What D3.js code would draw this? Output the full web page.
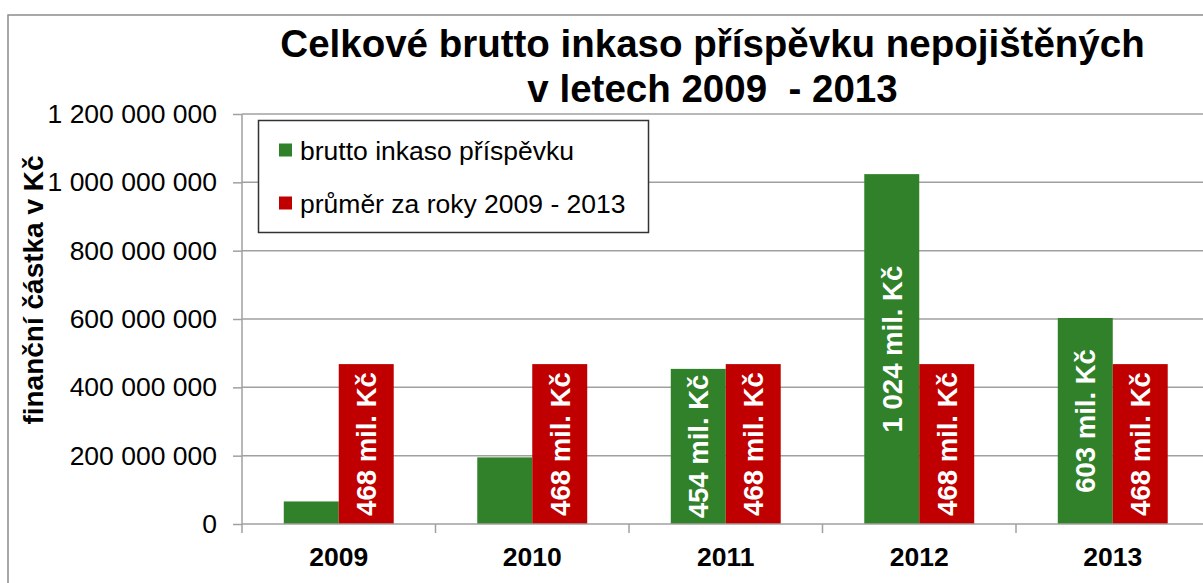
<!DOCTYPE html>
<html>
<head>
<meta charset="utf-8">
<script src="https://cdn.jsdelivr.net/npm/d3@7"></script>
<style>
  html, body { margin: 0; padding: 0; background: #fff; }
  svg { display: block; font-family: "Liberation Sans", Arial, sans-serif; }
  .title { white-space: pre; }
</style>
</head>
<body>
<svg id="chart" width="1203" height="583"></svg>
<script>
// ── Data ───────────────────────────────────────────────────────────────
const years        = ['2009', '2010', '2011', '2012', '2013'];
const bruttoInkaso = [66e6, 195e6, 454e6, 1024e6, 603e6];   // Kč
const prumer       = [468e6, 468e6, 468e6, 468e6, 468e6];   // Kč
const seriesNames  = ['brutto inkaso příspěvku', 'průměr za roky 2009 - 2013'];
const yTicks       = [0, 200e6, 400e6, 600e6, 800e6, 1000e6, 1200e6];
const titleLines   = ['Celkové brutto inkaso příspěvku nepojištěných', 'v letech 2009  - 2013'];
const yTitle       = 'finanční částka v Kč';

const COLORS = ['#31812a', '#c00000'];
const GRID   = '#a0a0a0';

const svg = d3.select('#chart');

// Plot geometry
const plot = { left: 242, right: 1209.5, top: 114, bottom: 524 };

const x = d3.scaleBand().domain(years).range([plot.left, plot.right]).padding(0);
const xs = d3.scaleBand().domain([0, 1]).range([0, x.bandwidth()])
  .paddingInner(0).paddingOuter(0.76);
const y = d3.scaleLinear().domain([0, 1.2e9]).range([plot.bottom, plot.top]);

const locale = d3.formatLocale({ decimal: ',', thousands: ' ', grouping: [3], currency: ['', ''] });
const fmt = locale.format(',d');

// Outer chart frame (cropped at right/bottom)
svg.append('path')
  .attr('d', `M8,583 V15 H1203`)
  .attr('fill', 'none')
  .attr('stroke', '#8c8c8c')
  .attr('stroke-width', 1.5);

// Gridlines
svg.append('g')
  .selectAll('line')
  .data(yTicks.slice(1))
  .join('line')
  .attr('x1', plot.left).attr('x2', plot.right)
  .attr('y1', d => y(d)).attr('y2', d => y(d))
  .attr('stroke', GRID).attr('stroke-width', 1.5);

// Y axis
const yAxis = svg.append('g')
  .attr('transform', `translate(${plot.left},0)`)
  .call(d3.axisLeft(y).tickValues(yTicks).tickFormat(fmt).tickSize(9).tickPadding(16));
yAxis.select('.domain').attr('stroke', GRID).attr('stroke-width', 1.5)
  .attr('d', `M0,${plot.top}V${plot.bottom + 9}`);
yAxis.selectAll('.tick line').attr('stroke', GRID).attr('stroke-width', 1.5);
yAxis.selectAll('.tick text')
  .attr('font-size', '26.5px')
  .attr('fill', '#000')
  .attr('font-family', '"Liberation Sans", Arial, sans-serif');

// Bars
const groups = svg.append('g')
  .selectAll('g')
  .data(years.map((yr, i) => ({ yr, vals: [bruttoInkaso[i], prumer[i]] })))
  .join('g')
  .attr('transform', d => `translate(${x(d.yr)},0)`);

const bars = groups.selectAll('g.bar')
  .data(d => d.vals.map((v, s) => ({ v, s })))
  .join('g')
  .attr('class', 'bar');

bars.append('rect')
  .attr('x', d => xs(d.s))
  .attr('width', xs.bandwidth())
  .attr('y', d => y(d.v))
  .attr('height', d => plot.bottom - y(d.v))
  .attr('fill', d => COLORS[d.s]);

// Value labels (rotated, centred in bar) — skip bars too short for text
bars.filter(d => plot.bottom - y(d.v) > 140)
  .append('text')
  .attr('transform', d => {
    const cx = xs(d.s) + xs.bandwidth() / 2;
    const cy = (y(d.v) + plot.bottom) / 2;
    return `translate(${cx},${cy}) rotate(-90)`;
  })
  .attr('text-anchor', 'middle')
  .attr('dy', '0.36em')
  .attr('fill', '#fff')
  .attr('font-weight', 'bold')
  .attr('font-size', '27.5px')
  .text(d => fmt(Math.round(d.v / 1e6)) + ' mil. Kč');

// X axis
const xAxis = svg.append('g')
  .attr('transform', `translate(0,${plot.bottom})`);
xAxis.append('line')
  .attr('x1', plot.left).attr('x2', plot.right)
  .attr('stroke', GRID).attr('stroke-width', 1.5);
xAxis.selectAll('line.tk')
  .data(years.slice(1))
  .join('line')
  .attr('class', 'tk')
  .attr('x1', d => x(d)).attr('x2', d => x(d))
  .attr('y1', 0).attr('y2', 9)
  .attr('stroke', GRID).attr('stroke-width', 1.5);
xAxis.selectAll('text')
  .data(years)
  .join('text')
  .attr('x', d => x(d) + x.bandwidth() / 2)
  .attr('y', 42)
  .attr('text-anchor', 'middle')
  .attr('font-weight', 'bold')
  .attr('font-size', '26.5px')
  .text(d => d);

// Y axis title
svg.append('text')
  .attr('transform', 'translate(43,290) rotate(-90)')
  .attr('text-anchor', 'middle')
  .attr('font-weight', 'bold')
  .attr('font-size', '28px')
  .text(yTitle);

// Title
svg.append('g')
  .selectAll('text')
  .data(titleLines)
  .join('text')
  .attr('class', 'title')
  .attr('x', 712.5)
  .attr('y', (d, i) => 57 + i * 45)
  .attr('text-anchor', 'middle')
  .attr('font-weight', 'bold')
  .attr('font-size', '38.5px')
  .text(d => d);

// Legend
const legend = svg.append('g');
legend.append('rect')
  .attr('x', 258.5).attr('y', 120.5)
  .attr('width', 390).attr('height', 112)
  .attr('fill', '#fff')
  .attr('stroke', '#333').attr('stroke-width', 1.5);
const items = legend.selectAll('g.item')
  .data(seriesNames)
  .join('g')
  .attr('class', 'item')
  .attr('transform', (d, i) => `translate(0,${150 + i * 53})`);
items.append('rect')
  .attr('x', 279).attr('y', -6.5)
  .attr('width', 13).attr('height', 13)
  .attr('fill', (d, i) => COLORS[i]);
items.append('text')
  .attr('x', 300)
  .attr('dy', '0.36em')
  .attr('font-size', '26.5px')
  .text(d => d);
</script>
</body>
</html>
